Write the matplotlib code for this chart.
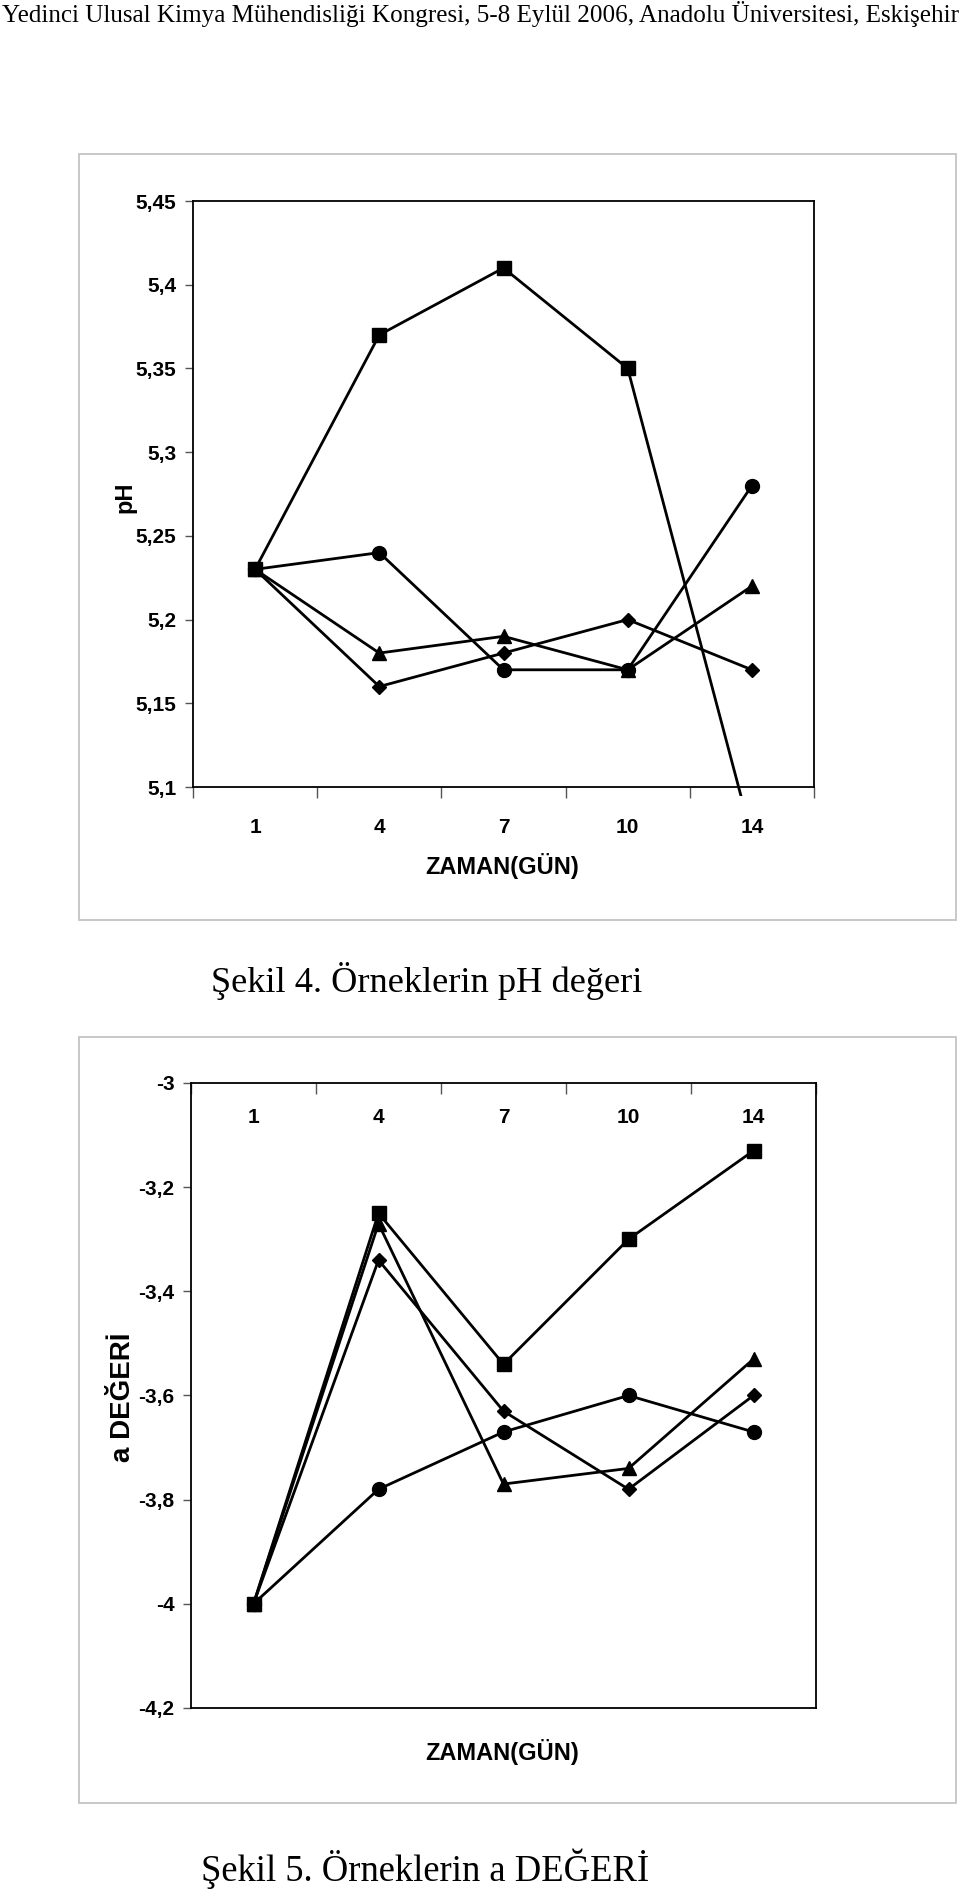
import matplotlib
matplotlib.use("Agg")
import matplotlib.pyplot as plt
from matplotlib.patches import Rectangle
from matplotlib.ticker import FuncFormatter, FixedLocator

# data
days = ["1", "4", "7", "10", "14"]

ph_square = [5.23, 5.37, 5.41, 5.35, 5.07]
ph_circle = [5.23, 5.24, 5.17, 5.17, 5.28]
ph_triangle = [5.23, 5.18, 5.19, 5.17, 5.22]
ph_diamond = [5.23, 5.16, 5.18, 5.20, 5.17]
ph_ticks = [5.1, 5.15, 5.2, 5.25, 5.3, 5.35, 5.4, 5.45]

a_square = [-4.0, -3.25, -3.54, -3.30, -3.13]
a_triangle = [-4.0, -3.27, -3.77, -3.74, -3.53]
a_diamond = [-4.0, -3.34, -3.63, -3.78, -3.60]
a_circle = [-4.0, -3.78, -3.67, -3.60, -3.67]
a_ticks = [-4.2, -4.0, -3.8, -3.6, -3.4, -3.2, -3.0]

header = "Yedinci Ulusal Kimya Mühendisliği Kongresi, 5-8 Eylül 2006, Anadolu Üniversitesi, Eskişehir"
caption4 = "Şekil 4. Örneklerin pH değeri"
caption5 = "Şekil 5. Örneklerin a DEĞERİ"

W, H = 960, 1891
SERIF = ["Liberation Serif", "DejaVu Serif"]

plt.rcParams["font.family"] = ["Liberation Sans Narrow", "Liberation Sans", "DejaVu Sans"]
plt.rcParams["font.weight"] = "bold"
plt.rcParams["axes.labelweight"] = "bold"

fig = plt.figure(figsize=(W / 100, H / 100), dpi=100)
fig.patch.set_facecolor("white")


def fx(px):
    return px / W


def fy(py):
    return 1 - py / H


# grey chart-area frames
for top, bottom in [(154, 920), (1037, 1803)]:
    fig.patches.append(Rectangle((fx(79), fy(bottom)), fx(956) - fx(79), fy(top) - fy(bottom),
                                 transform=fig.transFigure, fill=False,
                                 edgecolor="#c4c4c4", linewidth=1.3))

comma = FuncFormatter(lambda v, p: f"{v:g}".replace(".", ","))
styles = [("s", 9.5), ("o", 10), ("^", 10), ("D", 7.5)]


def setup(ax, ymin, ymax, ticks):
    ax.set_xlim(-0.5, len(days) - 0.5)
    ax.set_ylim(ymin, ymax)
    ax.set_yticks(ticks)
    ax.yaxis.set_major_formatter(comma)
    ax.set_xticks(range(len(days)))
    ax.set_xticklabels(days)
    ax.xaxis.set_minor_locator(FixedLocator([i - 0.5 for i in range(len(days) + 1)]))
    for s in ax.spines.values():
        s.set_linewidth(1.3)
    ax.tick_params(axis="y", direction="out", length=6, width=1, color="#555555", pad=6, labelsize=15)
    ax.tick_params(axis="x", labelsize=15)


# --- pH chart
ax1 = fig.add_axes([fx(193), fy(787), fx(814) - fx(193), fy(201) - fy(787)])
setup(ax1, 5.1, 5.45, ph_ticks)
ax1.tick_params(axis="x", which="major", length=0, pad=22)
ax1.tick_params(axis="x", which="minor", direction="out", length=8, width=1, color="#555555")
clip = Rectangle((0, -0.015), 1, 1.015, transform=ax1.transAxes, visible=False)
ax1.add_patch(clip)
for series, (m, ms) in zip([ph_square, ph_circle, ph_triangle, ph_diamond], styles):
    ln, = ax1.plot(range(len(days)), series, color="black", lw=2, marker=m, ms=ms)
    ln.set_clip_path(clip)
ax1.set_ylabel("pH", fontsize=17, fontweight="bold")
ax1.yaxis.set_label_coords(-0.1095, 0.495)
ax1.yaxis.label.set_verticalalignment("center")
ax1.set_xlabel("ZAMAN(GÜN)", fontsize=17, fontweight="bold")
ax1.xaxis.set_label_coords(0.497, -0.135)
ax1.xaxis.label.set_verticalalignment("center")

# --- a chart
ax2 = fig.add_axes([fx(191), fy(1708), fx(816) - fx(191), fy(1083) - fy(1708)])
setup(ax2, -4.2, -3.0, a_ticks)
ax2.tick_params(axis="x", which="both", top=True, bottom=False, labeltop=True, labelbottom=False)
ax2.tick_params(axis="x", which="major", length=0, pad=-32)
ax2.tick_params(axis="x", which="minor", direction="in", length=8, width=1, color="#555555")
for series, (m, ms) in zip([a_square, a_circle, a_triangle, a_diamond], styles):
    ax2.plot(range(len(days)), series, color="black", lw=2, marker=m, ms=ms, clip_on=False)
ax2.set_ylabel("a DEĞERİ", fontsize=20, fontweight="bold")
ax2.yaxis.set_label_coords(-0.109, 0.4976)
ax2.yaxis.label.set_verticalalignment("center")
ax2.set_xlabel("ZAMAN(GÜN)", fontsize=17, fontweight="bold")
ax2.xaxis.set_label_coords(0.497, -0.0704)
ax2.xaxis.label.set_verticalalignment("center")

# --- page texts, sized to the widths in the scan
renderer = fig.canvas.get_renderer()


def fit_text(s, x0, ybase, width):
    t = fig.text(fx(x0), fy(ybase), s, family=SERIF, fontweight="normal", fontsize=10,
                 ha="left", va="baseline")
    w = t.get_window_extent(renderer).width
    t.set_fontsize(10 * width / w)
    return t


fit_text(header, 2, 22, 955)
fit_text(caption4, 211, 992, 432)
fit_text(caption5, 201, 1881, 450)

fig.savefig("out.png", dpi=100, facecolor="white")
